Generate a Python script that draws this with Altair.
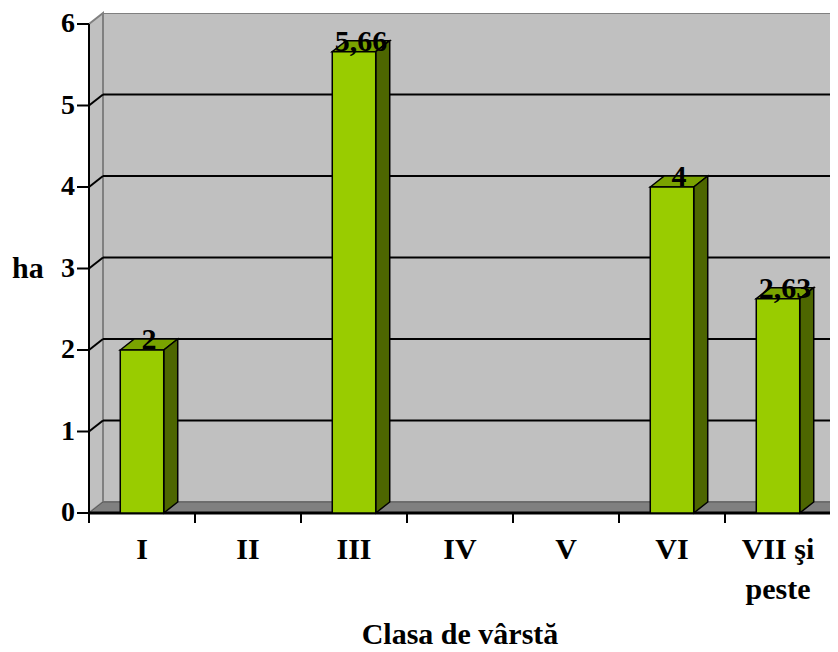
import altair as alt
import pandas as pd

# ---- data ----
categories = ["I", "II", "III", "IV", "V", "VI", "VII şi\npeste"]
values = [2, None, 5.66, None, None, 4, 2.63]
y_ticks = [0, 1, 2, 3, 4, 5, 6]
x_title = "Clasa de vârstă"
y_title = "ha"

# ---- geometry of the 3D look (in scale units) ----
PX_X = 106.0   # px per category
PX_Y = 81.5    # px per ha
W, H = 741, 500
XMAX = W / PX_X
YMAX = H / PX_Y
NCAT = len(categories)
YTOP = max(y_ticks)
DX = 14 / PX_X
DY = YMAX - YTOP
BW = 0.41

FONT = "Liberation Serif"
FS = 30
FRONT = "#99CC00"
SIDE = "#4D6600"
TOP = "#7AA300"
WALL = "#C0C0C0"
FLOOR = "#808080"

xscale = alt.Scale(domain=[0, XMAX], nice=False, zero=False)
yscale = alt.Scale(domain=[0, YMAX], nice=False, zero=False)


def X(f):
    return alt.X(f, type="quantitative", scale=xscale, axis=None)


def Y(f):
    return alt.Y(f, type="quantitative", scale=yscale, axis=None)


front_rows, side_rows, top_rows, label_rows = [], [], [], []
for i, v in enumerate(values):
    if v is None:
        continue
    x0 = i + 0.5 - BW / 2
    x1 = i + 0.5 + BW / 2
    front_rows.append(dict(bar=i, x0=x0, x1=x1, lo=0.0, hi=v))
    side_rows += [dict(bar=i, xs=x1, lo=0.0, hi=v),
                  dict(bar=i, xs=x1 + DX, lo=DY, hi=v + DY)]
    top_rows += [dict(bar=i, xs=x0, lo=v, hi=v),
                 dict(bar=i, xs=x0 + DX, lo=v, hi=v + DY),
                 dict(bar=i, xs=x1, lo=v, hi=v + DY),
                 dict(bar=i, xs=x1 + DX, lo=v + DY, hi=v + DY)]
    label_rows.append(dict(bar=i, xc=i + 0.5 + DX / 2, v=v,
                           txt=("%g" % v).replace(".", ",")))

front_df = pd.DataFrame(front_rows)
side_df = pd.DataFrame(side_rows)
top_df = pd.DataFrame(top_rows)
label_df = pd.DataFrame(label_rows)

# walls / floor / grid
back_df = pd.DataFrame([dict(x0=DX, x1=NCAT + DX, lo=DY, hi=YTOP + DY)])
left_df = pd.DataFrame([dict(xs=0.0, lo=0.0, hi=float(YTOP)),
                        dict(xs=DX, lo=DY, hi=YTOP + DY)])
floor_df = pd.DataFrame([dict(xs=0.0, lo=0.0, hi=0.0),
                         dict(xs=DX, lo=0.0, hi=DY),
                         dict(xs=float(NCAT), lo=0.0, hi=DY),
                         dict(xs=NCAT + DX, lo=DY, hi=DY)])
inner = [t for t in y_ticks if 0 < t < YTOP]
grid_df = pd.DataFrame([dict(x0=DX, x1=XMAX, y=t + DY) for t in inner])
diag_df = pd.DataFrame([dict(x0=0.0, x1=DX, y0=float(t), y1=t + DY) for t in inner])

# axes drawn as marks on the same scales
yline_df = pd.DataFrame([dict(x=0.0, y0=float(min(y_ticks)), y1=float(YTOP))])
xline_df = pd.DataFrame([dict(x0=0.0, x1=float(NCAT), y=0.0)])
ytick_df = pd.DataFrame(dict(v=[float(t) for t in y_ticks], x=0.0,
                             lab=[str(t) for t in y_ticks]))
xtick_df = pd.DataFrame(dict(k=[float(k) for k in range(NCAT + 1)], y=0.0))
xlab_df = pd.DataFrame(dict(c=[i + 0.5 for i in range(NCAT)], y=0.0, lab=categories))
xtitle_df = pd.DataFrame([dict(x=NCAT / 2, y=0.0, t=x_title)])
ytitle_df = pd.DataFrame([dict(x=0.0, y=YTOP / 2, t=y_title)])

txt = dict(font=FONT, fontWeight="bold", color="black")

back = alt.Chart(back_df).mark_rect(fill=WALL, stroke=FLOOR, strokeWidth=2, clip=True).encode(
    x=X("x0"), x2="x1", y=Y("lo"), y2="hi")
left = alt.Chart(left_df).mark_area(fill=WALL, stroke=FLOOR, strokeWidth=2).encode(
    x=X("xs"), y=Y("hi"), y2="lo")
floor = alt.Chart(floor_df).mark_area(fill=FLOOR, stroke="#5A5A5A", strokeWidth=1, clip=True).encode(
    x=X("xs"), y=Y("hi"), y2="lo")
grid = alt.Chart(grid_df).mark_rule(color="black", strokeWidth=2).encode(
    x=X("x0"), x2="x1", y=Y("y"))
diag = alt.Chart(diag_df).mark_rule(color="black", strokeWidth=2).encode(
    x=X("x0"), x2="x1", y=Y("y0"), y2="y1")

yline = alt.Chart(yline_df).mark_rule(color="black", strokeWidth=2).encode(
    x=X("x"), y=Y("y0"), y2="y1")
xline = alt.Chart(xline_df).mark_rule(color="black", strokeWidth=3).encode(
    x=X("x0"), x2="x1", y=Y("y"))
yticks = alt.Chart(ytick_df).mark_rule(color="black", strokeWidth=2, xOffset=-12).encode(
    x=X("x"), x2="x", y=Y("v"))
xticks = alt.Chart(xtick_df).mark_rule(color="black", strokeWidth=2, y2Offset=10).encode(
    x=X("k"), y=Y("y"), y2="y")
ylabels = alt.Chart(ytick_df).mark_text(align="right", baseline="middle", dx=-14,
                                        fontSize=28, **txt).encode(
    x=X("x"), y=Y("v"), text="lab:N")
xlabels = alt.Chart(xlab_df).mark_text(align="center", baseline="alphabetic", dy=46,
                                       lineBreak="\n", lineHeight=40, fontSize=FS, **txt).encode(
    x=X("c"), y=Y("y"), text="lab:N")
xtitle = alt.Chart(xtitle_df).mark_text(align="center", baseline="alphabetic", dy=131,
                                        fontSize=FS, **txt).encode(
    x=X("x"), y=Y("y"), text="t:N")
ytitle = alt.Chart(ytitle_df).mark_text(align="left", baseline="middle", dx=-77,
                                        fontSize=FS, **txt).encode(
    x=X("x"), y=Y("y"), text="t:N")

top = alt.Chart(top_df).mark_area(fill=TOP, stroke="black", strokeWidth=1.5).encode(
    x=X("xs"), y=Y("hi"), y2="lo", detail="bar:N")
side = alt.Chart(side_df).mark_area(fill=SIDE, stroke="black", strokeWidth=1.5).encode(
    x=X("xs"), y=Y("hi"), y2="lo", detail="bar:N")
front = alt.Chart(front_df).mark_rect(fill=FRONT, stroke="black", strokeWidth=1.5).encode(
    x=X("x0"), x2="x1", y=Y("hi"), y2="lo")
labels = alt.Chart(label_df).mark_text(
    baseline="alphabetic", align="center", dy=-1, fontSize=FS, **txt).encode(
    x=X("xc"), y=Y("v"), text="txt:N")

chart = alt.layer(
    back, left, floor, grid, diag, yline, xline, yticks, xticks,
    ylabels, xlabels, xtitle, ytitle, top, side, front, labels
).properties(
    width=W, height=H,
    autosize=alt.AutoSizeParams(type="none"),
    padding={"left": 81, "top": 5, "right": 0, "bottom": 139},
    background="white",
).configure_view(stroke=None)

chart.save("out.html", embed_options={"renderer": "svg", "actions": False})
